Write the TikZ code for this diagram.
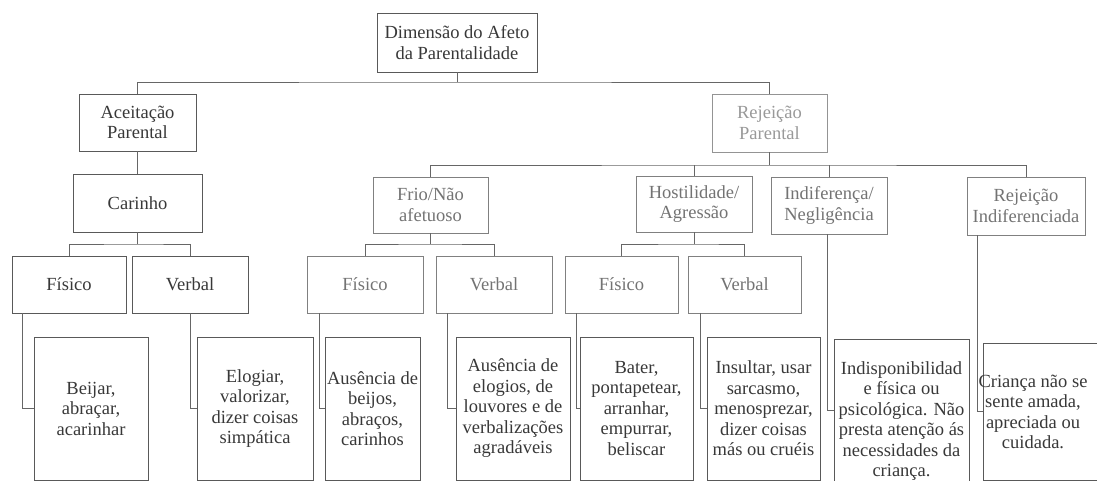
\documentclass[tikz,border=0pt]{standalone}
\usepackage{fontspec}
\setmainfont{Liberation Serif}
\begin{document}
\begin{tikzpicture}[x=1pt,y=-1pt,
    caixa/.style={draw=black!65, line width=0.9pt, align=center, inner sep=1pt,
      text=black!78, font=\fontsize{18.5}{20.5}\selectfont},
    clara/.style={caixa, draw=black!50, text=black!55},
    palida/.style={caixa, draw=black!42, text=black!40},
    liga/.style={draw=black!60, line width=0.9pt}]
  \useasboundingbox (0,0) rectangle (1097,481);

  % nivel 1 e 2
  \node[caixa, minimum width=160pt, minimum height=59pt] (raiz) at (457,42.5) {Dimensão do Afeto\\da Parentalidade};
  \node[caixa, minimum width=117pt, minimum height=57pt] (aceit) at (137.5,122.5) {Aceitação\\Parental};
  \node[palida, minimum width=115pt, minimum height=58pt] (rejeic) at (769.5,123) {Rejeição\\Parental};

  % ramo da aceitacao
  \node[caixa, minimum width=129pt, minimum height=58pt] (carinho) at (137.5,203) {Carinho};
  \node[caixa, minimum width=114pt, minimum height=57pt] (fis1) at (69,284.5) {Físico};
  \node[caixa, minimum width=116pt, minimum height=57pt] (ver1) at (190,284.5) {Verbal};
  \node[caixa, minimum width=114pt, minimum height=143pt] (beijar) at (91,408.5) {Beijar,\\abraçar,\\acarinhar};
  \node[caixa, minimum width=116pt, minimum height=143pt] (elogiar) at (255,408.5) {Elogiar,\\valorizar,\\dizer coisas\\simpática};

  % ramo da rejeicao
  \node[clara, minimum width=115pt, minimum height=56pt] (frio) at (430.5,205) {Frio/Não\\afetuoso};
  \node[clara, minimum width=116pt, minimum height=56pt] (host) at (694,204) {Hostilidade/\\Agressão};
  \node[clara, minimum width=116pt, minimum height=57pt] (indif) at (829,205.5) {Indiferença/\\Negligência};
  \node[clara, minimum width=118pt, minimum height=58pt] (rejind) at (1026,206) {Rejeição\\Indiferenciada};

  \node[clara, minimum width=116pt, minimum height=57pt] (fis2) at (365,284.5) {Físico};
  \node[clara, minimum width=116pt, minimum height=57pt] (ver2) at (494,284.5) {Verbal};
  \node[clara, minimum width=113pt, minimum height=57pt] (fis3) at (621.5,284.5) {Físico};
  \node[clara, minimum width=113pt, minimum height=57pt] (ver3) at (744.5,284.5) {Verbal};

  \node[caixa, minimum width=95pt, minimum height=143pt] (ausb) at (372.5,408.5) {Ausência de\\beijos,\\abraços,\\carinhos};
  \node[caixa, minimum width=114pt, minimum height=143pt] (ause) at (513,408.5) {Ausência de\\elogios, de\\louvores e de\\verbalizações\\agradáveis};
  \node[caixa, minimum width=113pt, minimum height=143pt] (bater) at (636.5,408.5) {Bater,\\pontapetear,\\arranhar,\\empurrar,\\beliscar};
  \node[caixa, minimum width=113pt, minimum height=143pt] (insult) at (763.5,408.5) {Insultar, usar\\sarcasmo,\\menosprezar,\\dizer coisas\\más ou cruéis};
  \node[caixa, minimum width=135pt, minimum height=139pt] (indisp) at (901.5,410.5) {\rule{0pt}{34pt}Indisponibilidad\\e física ou\\psicológica. Não\\presta atenção ás\\necessidades da\\criança.};
  \node[caixa, anchor=west, minimum width=130pt, minimum height=137pt] (crianca) at (983,411.5) {};
  \node[caixa, draw=none] (criancatxt) at (1033,412) {Criança não se\\sente amada,\\apreciada ou\\cuidada.};

  % ligacoes
  \coordinate (n0) at (457,82);
  \draw[liga] (raiz.south) -- (n0);
  \draw[liga] (aceit.north) |- (n0) -| (rejeic.north);
  \draw[liga] (aceit) -- (carinho);

  \coordinate (n1) at (137.5,244);
  \draw[liga] (carinho.south) -- (n1);
  \draw[liga] (fis1.north) |- (n1) -| (ver1.north);

  \coordinate (n2) at (769.5,165);
  \draw[liga] (rejeic.south) -- (n2);
  \draw[liga] (frio.north) |- (n2) -| (rejind.north);
  \draw[liga] (host.north) -- (host.north |- n2);
  \draw[liga] (indif.north) -- (indif.north |- n2);

  \coordinate (n3) at (430.5,244);
  \draw[liga] (frio.south) -- (n3);
  \draw[liga] (fis2.north) |- (n3) -| (ver2.north);

  \coordinate (n4) at (694,244);
  \draw[liga] (host.south) -- (n4);
  \draw[liga] (fis3.north) |- (n4) -| (ver3.north);

  % ligacoes em L para as folhas
  \draw[liga] ([xshift=11pt]fis1.south west) |- (beijar.west);
  \draw[liga] (ver1.south) |- (elogiar.west);
  \draw[liga] ([xshift=13pt]fis2.south west) |- (ausb.west);
  \draw[liga] ([xshift=12pt]ver2.south west) |- (ause.west);
  \draw[liga] ([xshift=12pt]fis3.south west) |- (bater.west);
  \draw[liga] ([xshift=13pt]ver3.south west) |- (insult.west);
  \draw[liga] ([xshift=-2pt]indif.south) |- (indisp.west);
  \draw[liga] ([xshift=11pt]rejind.south west) |- (crianca.west);
\end{tikzpicture}
\end{document}
